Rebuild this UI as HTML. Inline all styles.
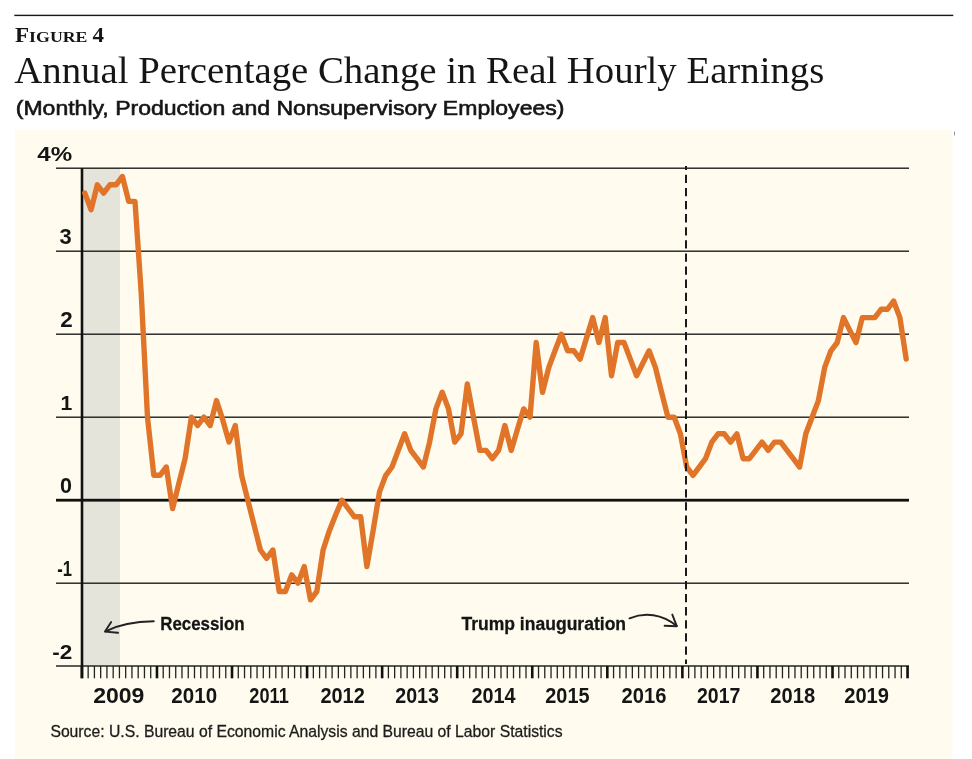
<!DOCTYPE html>
<html><head><meta charset="utf-8">
<style>
html,body{margin:0;padding:0;background:#fff;}
body{width:972px;height:759px;overflow:hidden;position:relative;}
svg{position:absolute;left:0;top:0;display:block;will-change:transform;}
.yr,.yl,.ann{font-family:"Liberation Sans",sans-serif;font-weight:bold;fill:#151515;}
.ann{stroke:#151515;stroke-width:0.3px;}
.src{font-family:"Liberation Sans",sans-serif;fill:#1c1c1c;stroke:#1c1c1c;stroke-width:0.3px;}
.ttl{font-family:"Liberation Serif",serif;fill:#151515;}
.sub{font-family:"Liberation Sans",sans-serif;fill:#151515;stroke:#151515;stroke-width:0.6px;}
.fig{font-family:"Liberation Serif",serif;font-weight:bold;fill:#151515;}
</style></head><body>
<svg width="972" height="759" viewBox="0 0 972 759">
<rect x="14.3" y="14.7" width="939" height="1.4" fill="#1a1a1a"/>
<text x="15" y="41.8" class="fig" textLength="72.5" lengthAdjust="spacingAndGlyphs"><tspan font-size="20.2px">F</tspan><tspan font-size="15.6px">IGURE</tspan></text>
<text x="92.6" y="41.8" class="fig" font-size="20.2px" textLength="11.5" lengthAdjust="spacingAndGlyphs">4</text>
<text x="14.26" y="83.00" class="ttl" font-size="37.00px" textLength="810.09" lengthAdjust="spacingAndGlyphs">Annual Percentage Change in Real Hourly Earnings</text>
<text x="15.76" y="114.60" class="sub" font-size="20.00px" textLength="548.68" lengthAdjust="spacingAndGlyphs">(Monthly, Production and Nonsupervisory Employees)</text>
<rect x="14.8" y="130" width="937.7" height="629" fill="#fffcef"/>
<rect x="954" y="131.5" width="1" height="4" fill="#999"/>
<rect x="83" y="168.2" width="37" height="498" fill="#e5e4da"/>
<rect x="56" y="167.50" width="853" height="1.4" fill="#1e1e1e"/>
<rect x="56" y="250.50" width="853" height="1.4" fill="#1e1e1e"/>
<rect x="56" y="333.50" width="853" height="1.4" fill="#1e1e1e"/>
<rect x="56" y="416.50" width="853" height="1.4" fill="#1e1e1e"/>
<rect x="56" y="582.50" width="853" height="1.4" fill="#1e1e1e"/>
<rect x="56" y="498.8" width="853" height="2.8" fill="#111"/>
<rect x="56" y="665.2" width="853" height="1.6" fill="#333"/>
<rect x="80.60" y="666" width="2.6" height="12.3" fill="#111"/>
<rect x="87.50" y="666" width="1.3" height="12.3" fill="#222"/>
<rect x="93.76" y="666" width="1.3" height="12.3" fill="#222"/>
<rect x="100.02" y="666" width="1.3" height="12.3" fill="#222"/>
<rect x="106.27" y="666" width="1.3" height="12.3" fill="#222"/>
<rect x="112.53" y="666" width="1.3" height="12.3" fill="#222"/>
<rect x="118.78" y="666" width="1.3" height="12.3" fill="#222"/>
<rect x="125.03" y="666" width="1.3" height="12.3" fill="#222"/>
<rect x="131.29" y="666" width="1.3" height="12.3" fill="#222"/>
<rect x="137.54" y="666" width="1.3" height="12.3" fill="#222"/>
<rect x="143.80" y="666" width="1.3" height="12.3" fill="#222"/>
<rect x="150.05" y="666" width="1.3" height="12.3" fill="#222"/>
<rect x="155.66" y="666" width="2.6" height="12.3" fill="#111"/>
<rect x="162.56" y="666" width="1.3" height="12.3" fill="#222"/>
<rect x="168.82" y="666" width="1.3" height="12.3" fill="#222"/>
<rect x="175.08" y="666" width="1.3" height="12.3" fill="#222"/>
<rect x="181.33" y="666" width="1.3" height="12.3" fill="#222"/>
<rect x="187.59" y="666" width="1.3" height="12.3" fill="#222"/>
<rect x="193.84" y="666" width="1.3" height="12.3" fill="#222"/>
<rect x="200.09" y="666" width="1.3" height="12.3" fill="#222"/>
<rect x="206.35" y="666" width="1.3" height="12.3" fill="#222"/>
<rect x="212.60" y="666" width="1.3" height="12.3" fill="#222"/>
<rect x="218.86" y="666" width="1.3" height="12.3" fill="#222"/>
<rect x="225.12" y="666" width="1.3" height="12.3" fill="#222"/>
<rect x="230.72" y="666" width="2.6" height="12.3" fill="#111"/>
<rect x="237.62" y="666" width="1.3" height="12.3" fill="#222"/>
<rect x="243.88" y="666" width="1.3" height="12.3" fill="#222"/>
<rect x="250.13" y="666" width="1.3" height="12.3" fill="#222"/>
<rect x="256.39" y="666" width="1.3" height="12.3" fill="#222"/>
<rect x="262.65" y="666" width="1.3" height="12.3" fill="#222"/>
<rect x="268.90" y="666" width="1.3" height="12.3" fill="#222"/>
<rect x="275.16" y="666" width="1.3" height="12.3" fill="#222"/>
<rect x="281.41" y="666" width="1.3" height="12.3" fill="#222"/>
<rect x="287.67" y="666" width="1.3" height="12.3" fill="#222"/>
<rect x="293.92" y="666" width="1.3" height="12.3" fill="#222"/>
<rect x="300.18" y="666" width="1.3" height="12.3" fill="#222"/>
<rect x="305.78" y="666" width="2.6" height="12.3" fill="#111"/>
<rect x="312.69" y="666" width="1.3" height="12.3" fill="#222"/>
<rect x="318.94" y="666" width="1.3" height="12.3" fill="#222"/>
<rect x="325.20" y="666" width="1.3" height="12.3" fill="#222"/>
<rect x="331.45" y="666" width="1.3" height="12.3" fill="#222"/>
<rect x="337.71" y="666" width="1.3" height="12.3" fill="#222"/>
<rect x="343.96" y="666" width="1.3" height="12.3" fill="#222"/>
<rect x="350.22" y="666" width="1.3" height="12.3" fill="#222"/>
<rect x="356.47" y="666" width="1.3" height="12.3" fill="#222"/>
<rect x="362.73" y="666" width="1.3" height="12.3" fill="#222"/>
<rect x="368.98" y="666" width="1.3" height="12.3" fill="#222"/>
<rect x="375.24" y="666" width="1.3" height="12.3" fill="#222"/>
<rect x="380.84" y="666" width="2.6" height="12.3" fill="#111"/>
<rect x="387.75" y="666" width="1.3" height="12.3" fill="#222"/>
<rect x="394.00" y="666" width="1.3" height="12.3" fill="#222"/>
<rect x="400.25" y="666" width="1.3" height="12.3" fill="#222"/>
<rect x="406.51" y="666" width="1.3" height="12.3" fill="#222"/>
<rect x="412.76" y="666" width="1.3" height="12.3" fill="#222"/>
<rect x="419.02" y="666" width="1.3" height="12.3" fill="#222"/>
<rect x="425.27" y="666" width="1.3" height="12.3" fill="#222"/>
<rect x="431.53" y="666" width="1.3" height="12.3" fill="#222"/>
<rect x="437.78" y="666" width="1.3" height="12.3" fill="#222"/>
<rect x="444.04" y="666" width="1.3" height="12.3" fill="#222"/>
<rect x="450.30" y="666" width="1.3" height="12.3" fill="#222"/>
<rect x="455.90" y="666" width="2.6" height="12.3" fill="#111"/>
<rect x="462.81" y="666" width="1.3" height="12.3" fill="#222"/>
<rect x="469.06" y="666" width="1.3" height="12.3" fill="#222"/>
<rect x="475.32" y="666" width="1.3" height="12.3" fill="#222"/>
<rect x="481.57" y="666" width="1.3" height="12.3" fill="#222"/>
<rect x="487.83" y="666" width="1.3" height="12.3" fill="#222"/>
<rect x="494.08" y="666" width="1.3" height="12.3" fill="#222"/>
<rect x="500.34" y="666" width="1.3" height="12.3" fill="#222"/>
<rect x="506.59" y="666" width="1.3" height="12.3" fill="#222"/>
<rect x="512.85" y="666" width="1.3" height="12.3" fill="#222"/>
<rect x="519.10" y="666" width="1.3" height="12.3" fill="#222"/>
<rect x="525.36" y="666" width="1.3" height="12.3" fill="#222"/>
<rect x="530.96" y="666" width="2.6" height="12.3" fill="#111"/>
<rect x="537.87" y="666" width="1.3" height="12.3" fill="#222"/>
<rect x="544.12" y="666" width="1.3" height="12.3" fill="#222"/>
<rect x="550.38" y="666" width="1.3" height="12.3" fill="#222"/>
<rect x="556.63" y="666" width="1.3" height="12.3" fill="#222"/>
<rect x="562.88" y="666" width="1.3" height="12.3" fill="#222"/>
<rect x="569.14" y="666" width="1.3" height="12.3" fill="#222"/>
<rect x="575.39" y="666" width="1.3" height="12.3" fill="#222"/>
<rect x="581.65" y="666" width="1.3" height="12.3" fill="#222"/>
<rect x="587.90" y="666" width="1.3" height="12.3" fill="#222"/>
<rect x="594.16" y="666" width="1.3" height="12.3" fill="#222"/>
<rect x="600.41" y="666" width="1.3" height="12.3" fill="#222"/>
<rect x="606.02" y="666" width="2.6" height="12.3" fill="#111"/>
<rect x="612.92" y="666" width="1.3" height="12.3" fill="#222"/>
<rect x="619.18" y="666" width="1.3" height="12.3" fill="#222"/>
<rect x="625.43" y="666" width="1.3" height="12.3" fill="#222"/>
<rect x="631.69" y="666" width="1.3" height="12.3" fill="#222"/>
<rect x="637.94" y="666" width="1.3" height="12.3" fill="#222"/>
<rect x="644.20" y="666" width="1.3" height="12.3" fill="#222"/>
<rect x="650.46" y="666" width="1.3" height="12.3" fill="#222"/>
<rect x="656.71" y="666" width="1.3" height="12.3" fill="#222"/>
<rect x="662.97" y="666" width="1.3" height="12.3" fill="#222"/>
<rect x="669.22" y="666" width="1.3" height="12.3" fill="#222"/>
<rect x="675.48" y="666" width="1.3" height="12.3" fill="#222"/>
<rect x="681.08" y="666" width="2.6" height="12.3" fill="#111"/>
<rect x="687.99" y="666" width="1.3" height="12.3" fill="#222"/>
<rect x="694.24" y="666" width="1.3" height="12.3" fill="#222"/>
<rect x="700.50" y="666" width="1.3" height="12.3" fill="#222"/>
<rect x="706.75" y="666" width="1.3" height="12.3" fill="#222"/>
<rect x="713.00" y="666" width="1.3" height="12.3" fill="#222"/>
<rect x="719.26" y="666" width="1.3" height="12.3" fill="#222"/>
<rect x="725.51" y="666" width="1.3" height="12.3" fill="#222"/>
<rect x="731.77" y="666" width="1.3" height="12.3" fill="#222"/>
<rect x="738.02" y="666" width="1.3" height="12.3" fill="#222"/>
<rect x="744.28" y="666" width="1.3" height="12.3" fill="#222"/>
<rect x="750.53" y="666" width="1.3" height="12.3" fill="#222"/>
<rect x="756.14" y="666" width="2.6" height="12.3" fill="#111"/>
<rect x="763.04" y="666" width="1.3" height="12.3" fill="#222"/>
<rect x="769.30" y="666" width="1.3" height="12.3" fill="#222"/>
<rect x="775.55" y="666" width="1.3" height="12.3" fill="#222"/>
<rect x="781.81" y="666" width="1.3" height="12.3" fill="#222"/>
<rect x="788.06" y="666" width="1.3" height="12.3" fill="#222"/>
<rect x="794.32" y="666" width="1.3" height="12.3" fill="#222"/>
<rect x="800.57" y="666" width="1.3" height="12.3" fill="#222"/>
<rect x="806.83" y="666" width="1.3" height="12.3" fill="#222"/>
<rect x="813.09" y="666" width="1.3" height="12.3" fill="#222"/>
<rect x="819.34" y="666" width="1.3" height="12.3" fill="#222"/>
<rect x="825.60" y="666" width="1.3" height="12.3" fill="#222"/>
<rect x="831.20" y="666" width="2.6" height="12.3" fill="#111"/>
<rect x="838.11" y="666" width="1.3" height="12.3" fill="#222"/>
<rect x="844.36" y="666" width="1.3" height="12.3" fill="#222"/>
<rect x="850.62" y="666" width="1.3" height="12.3" fill="#222"/>
<rect x="856.87" y="666" width="1.3" height="12.3" fill="#222"/>
<rect x="863.12" y="666" width="1.3" height="12.3" fill="#222"/>
<rect x="869.38" y="666" width="1.3" height="12.3" fill="#222"/>
<rect x="875.63" y="666" width="1.3" height="12.3" fill="#222"/>
<rect x="881.89" y="666" width="1.3" height="12.3" fill="#222"/>
<rect x="888.14" y="666" width="1.3" height="12.3" fill="#222"/>
<rect x="894.40" y="666" width="1.3" height="12.3" fill="#222"/>
<rect x="900.65" y="666" width="1.3" height="12.3" fill="#222"/>
<rect x="906.26" y="666" width="2.6" height="12.3" fill="#111"/>
<rect x="80.7" y="168.2" width="2.6" height="510" fill="#111"/>
<polyline points="84.8,193.1 91.1,209.7 97.3,184.8 103.6,193.1 109.9,184.8 116.1,184.8 122.4,176.5 128.7,201.4 135.0,201.4 141.2,292.7 147.5,417.2 153.8,475.3 160.0,475.3 166.3,467.0 172.6,508.5 178.8,483.6 185.1,458.7 191.4,417.2 197.7,425.5 203.9,417.2 210.2,425.5 216.5,400.6 222.7,419.7 229.0,442.1 235.3,425.5 241.6,475.3 247.8,500.2 254.1,525.1 260.4,550.0 266.6,558.3 272.9,550.0 279.2,591.5 285.4,591.5 291.7,574.9 298.0,583.2 304.2,566.6 310.5,599.8 316.8,591.5 323.1,550.0 329.3,530.9 335.6,515.1 341.9,500.2 348.1,508.5 354.4,516.8 360.7,516.8 366.9,566.6 373.2,530.1 379.5,491.9 385.8,475.3 392.0,467.0 398.3,450.4 404.6,433.8 410.8,450.4 417.1,458.7 423.4,467.0 429.6,442.1 435.9,408.9 442.2,392.3 448.5,408.9 454.7,442.1 461.0,433.8 467.3,384.0 473.5,417.2 479.8,450.4 486.1,450.4 492.3,458.7 498.6,450.4 504.9,425.5 511.2,450.4 517.4,429.6 523.7,408.9 530.0,417.2 536.2,342.5 542.5,392.3 548.8,367.4 555.0,350.8 561.3,334.2 567.6,350.8 573.9,350.8 580.1,359.1 586.4,338.4 592.7,317.6 598.9,342.5 605.2,317.6 611.5,375.7 617.7,342.5 624.0,342.5 630.3,359.1 636.6,375.7 642.8,363.2 649.1,350.8 655.4,367.4 661.6,392.3 667.9,417.2 674.2,417.2 680.4,433.8 686.7,467.0 693.0,475.3 699.3,467.0 705.5,458.7 711.8,442.1 718.1,433.8 724.3,433.8 730.6,442.1 736.9,433.8 743.1,458.7 749.4,458.7 755.7,450.4 762.0,442.1 768.2,450.4 774.5,442.1 780.8,442.1 787.0,450.4 793.3,458.7 799.6,467.0 805.8,433.8 812.1,417.2 818.4,400.6 824.7,367.4 830.9,350.8 837.2,342.5 843.5,317.6 849.7,330.1 856.0,342.5 862.3,317.6 868.5,317.6 874.8,317.6 881.1,309.3 887.4,309.3 893.6,301.0 899.9,317.6 906.2,359.1" fill="none" stroke="#e0752a" stroke-width="5.4" stroke-linejoin="round" stroke-linecap="round"/>
<line x1="686" y1="166" x2="686" y2="664" stroke="#1a1a1a" stroke-width="2" stroke-dasharray="8.3 4.8" stroke-dashoffset="4.3"/>
<text x="37.29" y="161.06" class="yl" font-size="21.14px" textLength="34.86" lengthAdjust="spacingAndGlyphs">4%</text>
<text x="59.51" y="244.18" class="yl" font-size="21.92px">3</text>
<text x="60.17" y="327.06" class="yl" font-size="22.38px">2</text>
<text x="60.48" y="410.06" class="yl" font-size="21.14px">1</text>
<text x="59.92" y="493.34" class="yl" font-size="21.55px">0</text>
<text x="57.23" y="576.06" class="yl" font-size="21.67px" textLength="14.76" lengthAdjust="spacingAndGlyphs">-1</text>
<text x="52.29" y="659.06" class="yl" font-size="20.00px" textLength="20.06" lengthAdjust="spacingAndGlyphs">-2</text>
<text x="93.18" y="702.56" class="yr" font-size="21.30px" textLength="51.26" lengthAdjust="spacingAndGlyphs">2009</text>
<text x="171.37" y="702.56" class="yr" font-size="21.16px" textLength="45.78" lengthAdjust="spacingAndGlyphs">2010</text>
<text x="249.35" y="702.56" class="yr" font-size="21.16px" textLength="39.39" lengthAdjust="spacingAndGlyphs">2011</text>
<text x="320.40" y="702.56" class="yr" font-size="21.16px" textLength="44.48" lengthAdjust="spacingAndGlyphs">2012</text>
<text x="395.20" y="702.56" class="yr" font-size="21.16px" textLength="43.79" lengthAdjust="spacingAndGlyphs">2013</text>
<text x="471.43" y="702.56" class="yr" font-size="21.16px" textLength="44.19" lengthAdjust="spacingAndGlyphs">2014</text>
<text x="545.27" y="702.56" class="yr" font-size="21.16px" textLength="44.25" lengthAdjust="spacingAndGlyphs">2015</text>
<text x="621.56" y="702.56" class="yr" font-size="21.16px" textLength="44.85" lengthAdjust="spacingAndGlyphs">2016</text>
<text x="696.96" y="702.56" class="yr" font-size="21.16px" textLength="43.43" lengthAdjust="spacingAndGlyphs">2017</text>
<text x="770.37" y="702.56" class="yr" font-size="21.16px" textLength="44.83" lengthAdjust="spacingAndGlyphs">2018</text>
<text x="844.21" y="702.56" class="yr" font-size="21.16px" textLength="44.75" lengthAdjust="spacingAndGlyphs">2019</text>
<text x="160.19" y="629.86" class="ann" font-size="18.28px" textLength="84.49" lengthAdjust="spacingAndGlyphs">Recession</text>
<path d="M153.8,621.3 C135,621.5 118,625 105.5,631.4" fill="none" stroke="#222" stroke-width="1.9" stroke-linecap="round"/>
<path d="M111.2,622 L105,631.6 L118,632.8" fill="none" stroke="#222" stroke-width="1.9" stroke-linecap="round" stroke-linejoin="round"/>
<text x="461.40" y="630.40" class="ann" font-size="18.80px" textLength="164.70" lengthAdjust="spacingAndGlyphs">Trump inauguration</text>
<path d="M629.5,618.3 C645,612 662,614 676.8,626" fill="none" stroke="#222" stroke-width="1.9" stroke-linecap="round"/>
<path d="M672.3,614.6 L676.8,626.2 L664.6,625.7" fill="none" stroke="#222" stroke-width="1.9" stroke-linecap="round" stroke-linejoin="round"/>
<text x="50.40" y="737.40" class="src" font-size="16.80px" textLength="512.20" lengthAdjust="spacingAndGlyphs">Source: U.S. Bureau of Economic Analysis and Bureau of Labor Statistics</text>
</svg>
</body></html>
